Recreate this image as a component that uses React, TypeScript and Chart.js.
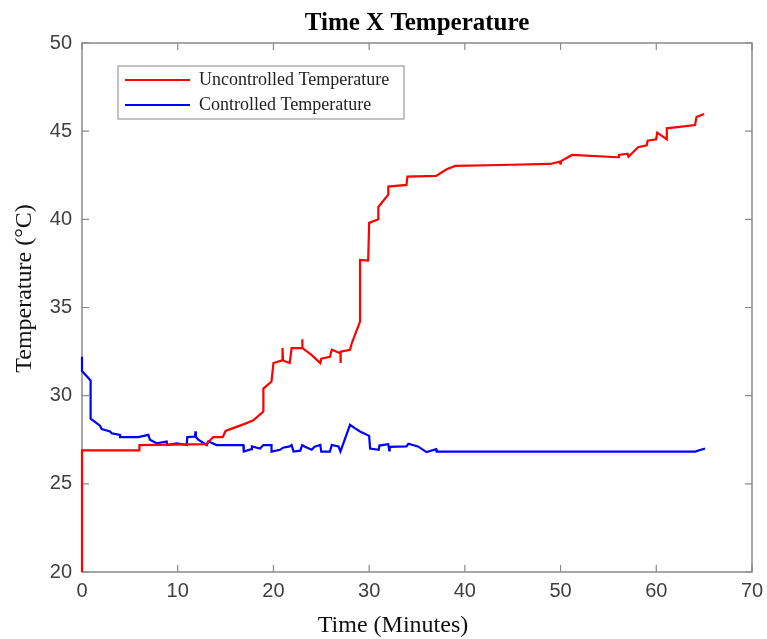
import React, { useEffect, useRef } from "react";
import { Chart, registerables } from "chart.js";

Chart.register(...registerables);

// ---- Data (time in minutes, temperature in °C) ----
const uncontrolledTime = [
  0, 0, 6, 6, 13, 13.7, 14.7, 15, 16, 17, 17.9, 18.95, 18.95, 19.8, 20.0, 20.9, 20.95, 21.0, 21.7, 21.9,
  23.0, 23.0, 23.05, 24.0, 24.9, 25.0, 25.9, 26.1, 27.0, 27.0, 27.05, 28.0, 28.2, 29.05, 29.05, 29.9,
  30.0, 30.96, 30.96, 32.0, 32.0, 33.9, 34.0, 37.0, 38.1, 39.0, 43.7, 48.9, 49.95, 50.0, 50.05, 51.2,
  56.0, 56.1, 57.0, 57.1, 58.1, 59.0, 59.1, 59.98, 60.1, 61.1, 61.1, 64.05, 64.2, 65.0,
];
const uncontrolledTemp = [
  20, 26.9, 26.9, 27.2, 27.25, 27.65, 27.65, 28.0, 28.2, 28.4, 28.6, 29.1, 30.4, 30.8, 31.85, 32.0, 32.7, 32.0, 31.85, 32.7,
  32.7, 33.2, 32.7, 32.3, 31.85, 32.1, 32.2, 32.6, 32.4, 31.85, 32.5, 32.6, 33.0, 34.2, 37.7, 37.66,
  39.8, 40.0, 40.7, 41.4, 41.86, 41.95, 42.42, 42.46, 42.84, 43.03, 43.08, 43.14, 43.27, 43.1, 43.3, 43.65,
  43.52, 43.65, 43.72, 43.55, 44.09, 44.2, 44.46, 44.54, 44.92, 44.54, 45.16, 45.35, 45.8, 45.97,
];
const controlledTime = [
  0, 0, 0.9, 0.9, 1.88, 2.06, 2.93, 3.1, 3.97, 3.97, 5.88, 6.93, 7.1, 7.8, 8.85, 8.9, 9.9, 10.94, 11.0,
  11.8, 11.85, 11.9, 12.15, 13.03, 13.2, 14.07, 16.85, 16.9, 17.7, 17.75, 18.6, 18.95, 19.8, 19.8, 20.7,
  21.0, 21.7, 21.9, 22.1, 22.8, 23.0, 23.3, 24.0, 24.3, 24.9, 25.0, 25.9, 26.1, 26.8, 27.0, 28.0, 28.5,
  29.05, 30.0, 30.1, 31.0, 31.07, 32.0, 32.1, 32.15, 33.9, 34.1, 35.1, 36.0, 37.0, 37.05, 64.05, 65.1,
];
const controlledTemp = [
  32.2, 31.4, 30.86, 28.7, 28.3, 28.1, 27.97, 27.87, 27.78, 27.65, 27.65, 27.78, 27.5, 27.3, 27.4, 27.2, 27.3, 27.2, 27.65,
  27.68, 27.97, 27.65, 27.5, 27.2, 27.4, 27.2, 27.2, 26.83, 26.97, 27.12, 27.0, 27.2, 27.2, 26.83, 26.93,
  27.05, 27.12, 27.2, 26.83, 26.88, 27.2, 27.1, 26.93, 27.1, 27.2, 26.83, 26.83, 27.2, 27.12, 26.83, 28.35, 28.16,
  27.97, 27.72, 27.0, 26.93, 27.17, 27.25, 26.9, 27.1, 27.12, 27.27, 27.12, 26.8, 26.97, 26.83, 26.83, 27.0,
];

const xTicks = [0, 10, 20, 30, 40, 50, 60, 70];
const yTicks = [20, 25, 30, 35, 40, 45, 50];

const titleText = "Time X Temperature";
const xTitle = "Time (Minutes)";
const yTitle = "Temperature (°C)";
const seriesLabels = ["Uncontrolled Temperature", "Controlled Temperature"];
const seriesColors = ["#ff0000", "#0000ff"];

const AXIS_COLOR = "#8a8a8a";
const TICK_LABEL_COLOR = "#404040";
const SERIF = "'Liberation Serif', 'Times New Roman', serif";
const SANS = "'Liberation Sans', Arial, sans-serif";

const framePlugin = {
  id: "matlabFrame",
  beforeDatasetsDraw(chart: any) {
    const { ctx, chartArea: a, scales } = chart;
    ctx.save();
    ctx.strokeStyle = AXIS_COLOR;
    ctx.lineWidth = 1.5;
    ctx.strokeRect(a.left, a.top, a.right - a.left, a.bottom - a.top);
    ctx.lineWidth = 1.2;
    const tl = 7;
    ctx.beginPath();
    for (const v of xTicks) {
      const px = scales.x.getPixelForValue(v);
      ctx.moveTo(px, a.bottom);
      ctx.lineTo(px, a.bottom - tl);
      ctx.moveTo(px, a.top);
      ctx.lineTo(px, a.top + tl);
    }
    for (const v of yTicks) {
      const py = scales.y.getPixelForValue(v);
      ctx.moveTo(a.left, py);
      ctx.lineTo(a.left + tl, py);
      ctx.moveTo(a.right, py);
      ctx.lineTo(a.right - tl, py);
    }
    ctx.stroke();
    ctx.restore();
  },
  afterDraw(chart: any) {
    const { ctx, chartArea: a } = chart;
    ctx.save();
    // Title
    ctx.fillStyle = "#000";
    ctx.font = `bold 25px ${SERIF}`;
    ctx.textAlign = "center";
    ctx.textBaseline = "middle";
    ctx.fillText(titleText, (a.left + a.right) / 2, a.top - 19);
    // X axis title
    ctx.font = `24px ${SERIF}`;
    ctx.fillStyle = "#111";
    ctx.fillText(xTitle, (a.left + a.right) / 2 - 24, a.bottom + 54);
    // Y axis title
    ctx.save();
    ctx.translate(a.left - 57, (a.top + a.bottom) / 2 - 19);
    ctx.rotate(-Math.PI / 2);
    ctx.fillText(yTitle, 0, 0);
    ctx.restore();
    // Legend
    const lx = a.left + 36;
    const ly = a.top + 23;
    const lw = 286;
    const lh = 53;
    ctx.fillStyle = "#fff";
    ctx.fillRect(lx, ly, lw, lh);
    ctx.strokeStyle = "#9a9a9a";
    ctx.lineWidth = 1.2;
    ctx.strokeRect(lx, ly, lw, lh);
    ctx.font = `18px ${SERIF}`;
    ctx.textAlign = "left";
    ctx.textBaseline = "middle";
    chart.data.datasets.forEach((ds: any, i: number) => {
      const y = ly + 14 + i * 25;
      ctx.strokeStyle = ds.borderColor;
      ctx.lineWidth = 2;
      ctx.beginPath();
      ctx.moveTo(lx + 7, y);
      ctx.lineTo(lx + 72, y);
      ctx.stroke();
      ctx.fillStyle = "#222";
      ctx.fillText(ds.label, lx + 81, y);
    });
    ctx.restore();
  },
};

export default function App() {
  const canvasRef = useRef<HTMLCanvasElement | null>(null);

  useEffect(() => {
    document.body.style.margin = "0";
    const canvas = canvasRef.current;
    if (!canvas) return;
    const toPoints = (xs: number[], ys: number[]) => xs.map((x, i) => ({ x, y: ys[i] }));
    const chart = new Chart(canvas, {
      type: "line",
      data: {
        datasets: [
          {
            label: seriesLabels[0],
            data: toPoints(uncontrolledTime, uncontrolledTemp),
            borderColor: seriesColors[0],
            borderWidth: 2.2,
            pointRadius: 0,
            tension: 0,
            clip: false as any,
          },
          {
            label: seriesLabels[1],
            data: toPoints(controlledTime, controlledTemp),
            borderColor: seriesColors[1],
            borderWidth: 2.2,
            pointRadius: 0,
            tension: 0,
            clip: false as any,
          },
        ],
      },
      options: {
        responsive: false,
        animation: false,
        parsing: false as any,
        layout: { padding: { left: 0, right: 15, top: 43, bottom: 0 } },
        plugins: {
          legend: { display: false },
          title: { display: false },
          tooltip: { enabled: false },
        },
        scales: {
          x: {
            type: "linear",
            min: 0,
            max: 70,
            afterBuildTicks: (scale: any) => {
              scale.ticks = xTicks.map((v) => ({ value: v }));
            },
            afterFit: (scale: any) => {
              scale.height = 67;
              scale.paddingLeft = 0;
              scale.paddingRight = 0;
            },
            grid: { display: false, drawTicks: false },
            border: { display: false },
            ticks: {
              color: TICK_LABEL_COLOR,
              font: { family: SANS, size: 20 },
              padding: 7,
              maxRotation: 0,
              autoSkip: false,
            },
          },
          y: {
            type: "linear",
            min: 20,
            max: 50,
            afterBuildTicks: (scale: any) => {
              scale.ticks = yTicks.map((v) => ({ value: v }));
            },
            afterFit: (scale: any) => {
              scale.width = 82;
              scale.paddingTop = 0;
              scale.paddingBottom = 0;
            },
            grid: { display: false, drawTicks: false },
            border: { display: false },
            ticks: {
              color: TICK_LABEL_COLOR,
              font: { family: SANS, size: 20 },
              padding: 10,
              autoSkip: false,
            },
          },
        },
      },
      plugins: [framePlugin],
    });
    return () => chart.destroy();
  }, []);

  return <canvas ref={canvasRef} width={767} height={639} style={{ display: "block" }} />;
}
